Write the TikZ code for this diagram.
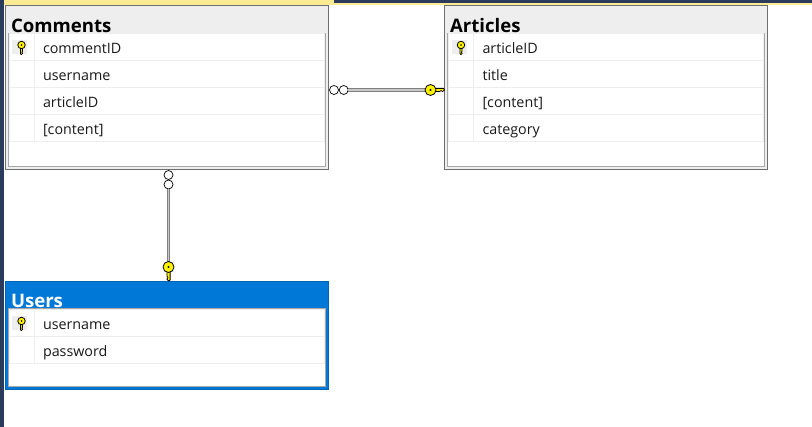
\documentclass[tikz,border=0pt]{standalone}
\usepackage{xcolor}
\usepackage{fontspec}
\setmainfont{Open Sans}
\usepackage{tikz}
\usetikzlibrary{positioning}
\definecolor{navy}{HTML}{2B3B5C}
\definecolor{tabyellow}{HTML}{FDEB94}
\definecolor{headgray}{HTML}{EEEEEE}
\definecolor{edgegray}{HTML}{6E6E6E}
\definecolor{bodygray}{HTML}{A8A8A8}
\definecolor{selblue}{HTML}{0078D7}
\definecolor{keyyellow}{HTML}{FFF200}

\begin{document}
\begin{tikzpicture}[x=1pt, y=-1pt,
  every node/.style={inner sep=0pt, outer sep=0pt},
  tablebox/.style={draw=edgegray, line width=1pt, fill=headgray, anchor=north west, minimum width=323pt},
  selbox/.style={tablebox, draw=selblue!85!black, fill=selblue},
  bodybox/.style={draw=bodygray, line width=1pt, fill=white, anchor=north west, minimum width=317pt},
  titletext/.style={anchor=base west, font=\fontsize{18.6}{20}\selectfont\bfseries},
  keycell/.style={draw=headgray, line width=1pt, minimum width=25pt, minimum height=27pt},
  namecell/.style={draw=headgray, line width=1pt, anchor=west, text width=272pt, inner xsep=9pt, minimum height=27pt, text height=15pt, text depth=3pt, align=left, font=\fontsize{14.3}{16}\selectfont, text=black!90},
  keybadge/.style={fill=headgray, minimum width=15pt, minimum height=14pt},
  manyend/.style={circle, draw=black, fill=white, line width=.7pt, minimum size=9pt},
  relline/.style={draw=gray, line width=1pt, double=black!22, double distance=1.5pt},
  keyicon/.pic={
    \draw[black, fill=keyyellow, line width=.8pt] (4,-1.6) -- (13,-1.6) -- (14,0) -- (12,1.6) -- (10.5,.6) -- (9,1.6) -- (4,1.6) -- cycle;
    \draw[black, fill=keyyellow, line width=.8pt] (0,0) circle (5.5pt);
    \fill[black] (0,0) circle (1.2pt);
  }]
\useasboundingbox (0,0) rectangle (812,427);
\fill[white] (0,0) rectangle (812,427);
% window edges
\fill[navy] (0,0) rectangle (4,427);
\fill[navy] (334,0) rectangle (812,3);
\fill[tabyellow] (4,0) rectangle (334,5);
\fill[tabyellow] (334,3) rectangle (812,5);

% Comments
\node[tablebox, minimum height=164pt] (comments) at (5.5,5.5) {};
\node[titletext] (commentstitle) at (11,33) {Comments};
\node[bodybox, minimum height=133pt] (commentsbody) at (8,33.5) {};
\node[keycell, anchor=north west] (c1k) at (9,34) {};
\node[namecell, right=0pt of c1k] (c1) {commentID};
\node[keycell, below=0pt of c1k] (c2k) {};
\node[namecell, right=0pt of c2k] (c2) {username};
\node[keycell, below=0pt of c2k] (c3k) {};
\node[namecell, right=0pt of c3k] (c3) {articleID};
\node[keycell, below=0pt of c3k] (c4k) {};
\node[namecell, right=0pt of c4k] (c4) {[content]};
\node[keybadge] (c1b) at ([xshift=-2pt]c1k) {};
\pic[rotate=-90, yscale=-.68, xscale=.68] at ([xshift=2pt, yshift=2.5pt]c1b) {keyicon};

% Articles
\node[tablebox, minimum height=164pt] (articles) at (444.5,5.5) {};
\node[titletext] (articlestitle) at (450,33) {Articles};
\node[bodybox, minimum height=133pt] (articlesbody) at (447.5,33.5) {};
\node[keycell, anchor=north west] (a1k) at (448.5,34) {};
\node[namecell, right=0pt of a1k] (a1) {articleID};
\node[keycell, below=0pt of a1k] (a2k) {};
\node[namecell, right=0pt of a2k] (a2) {title};
\node[keycell, below=0pt of a2k] (a3k) {};
\node[namecell, right=0pt of a3k] (a3) {[content]};
\node[keycell, below=0pt of a3k] (a4k) {};
\node[namecell, right=0pt of a4k] (a4) {category};
\node[keybadge] (a1b) at ([xshift=-2pt]a1k) {};
\pic[rotate=-90, yscale=-.68, xscale=.68] at ([xshift=2pt, yshift=2.5pt]a1b) {keyicon};

% Users
\node[selbox, minimum height=108pt] (users) at (5.5,281.5) {};
\node[titletext, text=white] (userstitle) at (11,308) {Users};
\node[bodybox, minimum height=78pt] (usersbody) at (8,309) {};
\node[keycell, anchor=north west] (u1k) at (9,310) {};
\node[namecell, right=0pt of u1k] (u1) {username};
\node[keycell, below=0pt of u1k] (u2k) {};
\node[namecell, right=0pt of u2k] (u2) {password};
\node[keybadge] (u1b) at ([xshift=-2pt]u1k) {};
\pic[rotate=-90, yscale=-.68, xscale=.68] at ([xshift=2pt, yshift=2.5pt]u1b) {keyicon};

% relationships
\node[manyend] (cam1) at (334,90) {};
\node[manyend] (cam2) at (343.7,90) {};
\coordinate (akey) at (430.5,90);
\draw[relline] (cam2) -- (akey);
\pic at (akey) {keyicon};
\node[manyend] (cum1) at (168.5,175) {};
\node[manyend] (cum2) at (168.5,184.5) {};
\coordinate (ukey) at (168.5,267);
\draw[relline] (cum2) -- (ukey);
\pic[rotate=-90] at (ukey) {keyicon};
\end{tikzpicture}
\end{document}
